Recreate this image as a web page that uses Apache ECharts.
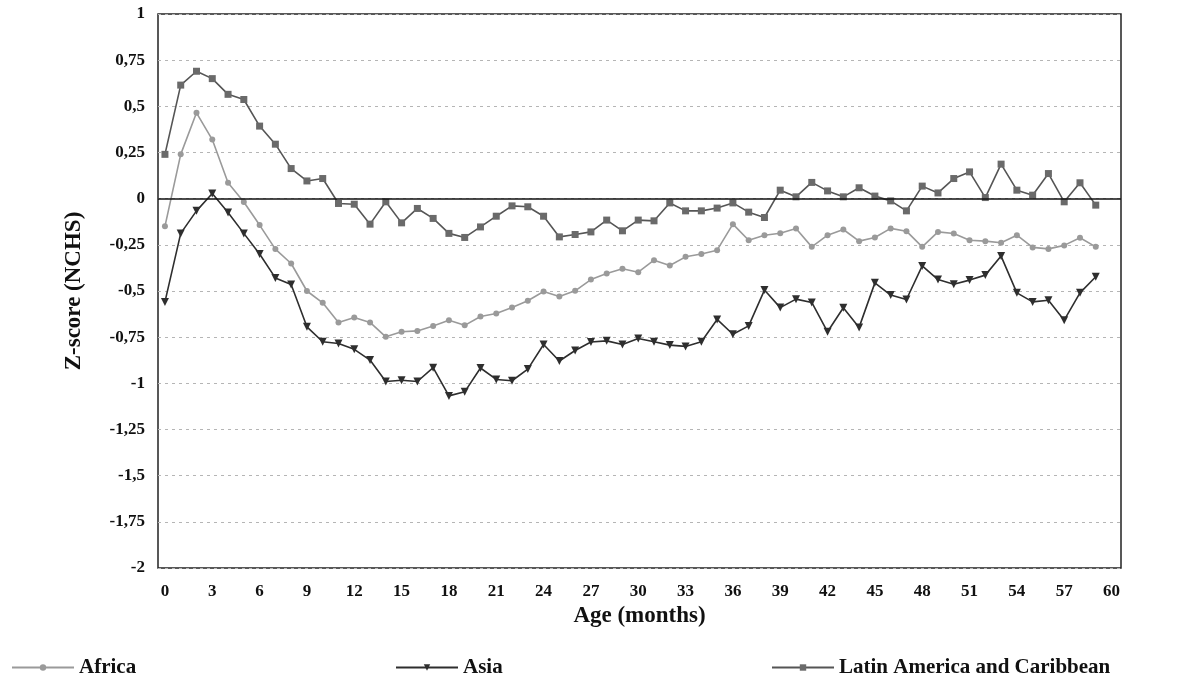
<!DOCTYPE html>
<html>
<head>
<meta charset="utf-8">
<script src="https://cdn.jsdelivr.net/npm/echarts@6/dist/echarts.min.js"></script>
<style>
  html, body { margin: 0; padding: 0; background: #fff; }
  #chart { width: 1180px; height: 681px; }
</style>
</head>
<body>
<div id="chart"></div>
<script>
// age in months
const months = [0, 1, 2, 3, 4, 5, 6, 7, 8, 9, 10, 11, 12, 13, 14, 15, 16, 17, 18, 19,
  20, 21, 22, 23, 24, 25, 26, 27, 28, 29, 30, 31, 32, 33, 34, 35, 36, 37, 38, 39,
  40, 41, 42, 43, 44, 45, 46, 47, 48, 49, 50, 51, 52, 53, 54, 55, 56, 57, 58, 59]

const africa = [-0.15, 0.24, 0.465, 0.32, 0.086, -0.018, -0.143, -0.273, -0.351, -0.5,
  -0.564, -0.67, -0.643, -0.67, -0.748, -0.721, -0.716, -0.689, -0.658, -0.686,
  -0.638, -0.622, -0.589, -0.553, -0.503, -0.53, -0.499, -0.438, -0.405, -0.38,
  -0.398, -0.333, -0.362, -0.315, -0.3, -0.279, -0.138, -0.225, -0.198, -0.187,
  -0.161, -0.261, -0.198, -0.167, -0.23, -0.21, -0.161, -0.176, -0.261, -0.18,
  -0.189, -0.225, -0.23, -0.239, -0.198, -0.264, -0.272, -0.253, -0.212, -0.261]

const asia = [-0.559, -0.188, -0.066, 0.028, -0.075, -0.188, -0.3, -0.429, -0.465, -0.694,
  -0.775, -0.784, -0.816, -0.874, -0.99, -0.983, -0.99, -0.915, -1.068, -1.046,
  -0.917, -0.979, -0.986, -0.923, -0.79, -0.879, -0.822, -0.776, -0.77, -0.79,
  -0.757, -0.775, -0.793, -0.8, -0.775, -0.654, -0.734, -0.689, -0.495, -0.59,
  -0.544, -0.562, -0.721, -0.591, -0.697, -0.456, -0.522, -0.546, -0.364, -0.438,
  -0.463, -0.441, -0.414, -0.311, -0.51, -0.559, -0.55, -0.658, -0.51, -0.423]

const latin = [0.24, 0.615, 0.69, 0.65, 0.565, 0.537, 0.393, 0.295, 0.163, 0.096,
  0.109, -0.026, -0.03, -0.138, -0.017, -0.131, -0.053, -0.107, -0.188, -0.21,
  -0.153, -0.095, -0.039, -0.044, -0.095, -0.207, -0.194, -0.18, -0.116, -0.174,
  -0.116, -0.12, -0.023, -0.066, -0.066, -0.051, -0.023, -0.073, -0.102, 0.046,
  0.01, 0.088, 0.042, 0.01, 0.059, 0.014, -0.012, -0.066, 0.068, 0.031,
  0.109, 0.145, 0.006, 0.187, 0.046, 0.019, 0.136, -0.017, 0.086, -0.035]

const xTicks = [0, 3, 6, 9, 12, 15, 18, 21, 24, 27, 30, 33, 36, 39, 42, 45, 48, 51, 54, 57, 60]

const FONT = '"Liberation Serif", "DejaVu Serif", serif'

const chart = echarts.init(document.getElementById('chart'))

function pairs(vals) {
  return months.map((m, i) => [m, vals[i]])
}

function legendAt(name, left) {
  return {
    data: [name],
    left: left,
    top: 652,
    itemWidth: 62,
    itemHeight: 8,
    itemGap: 12,
    textStyle: { fontFamily: FONT, fontWeight: 'bold', fontSize: 21, color: '#111' }
  }
}

chart.setOption({
  animation: false,
  backgroundColor: '#fff',
  grid: {
    left: 158, right: 59, top: 14, bottom: 113,
    show: true, borderColor: '#222', borderWidth: 1.5, backgroundColor: 'transparent'
  },
  legend: [
    legendAt('Africa', 6),
    legendAt('Asia', 390),
    legendAt('Latin America and Caribbean', 766)
  ],
  xAxis: {
    type: 'value', min: -0.44, max: 60.6,
    name: 'Age (months)', nameLocation: 'middle', nameGap: 34,
    nameTextStyle: { fontFamily: FONT, fontWeight: 'bold', fontSize: 23, color: '#111' },
    axisLine: { show: false }, axisTick: { show: false },
    splitLine: { show: false },
    axisLabel: {
      customValues: xTicks, margin: 15,
      fontFamily: FONT, fontWeight: 'bold', fontSize: 17, color: '#111'
    }
  },
  yAxis: {
    type: 'value', min: -2, max: 1, interval: 0.25,
    name: 'Z-score (NCHS)', nameLocation: 'middle', nameGap: 72, nameRotate: 90,
    nameTextStyle: { fontFamily: FONT, fontWeight: 'bold', fontSize: 23, color: '#111' },
    axisLine: { show: false }, axisTick: { show: false },
    splitLine: { lineStyle: { color: '#b5b5b5', type: [3, 4], width: 1 } },
    axisLabel: {
      margin: 13, fontFamily: FONT, fontWeight: 'bold', fontSize: 17, color: '#111',
      formatter: v => String(v).replace('.', ',')
    }
  },
  series: [
    {
      name: 'Latin America and Caribbean',
      type: 'line', data: pairs(latin),
      symbol: 'rect', symbolSize: 7,
      itemStyle: { color: '#6a6a6a' },
      lineStyle: { color: '#555', width: 1.6 },
      markLine: {
        silent: true, symbol: 'none',
        label: { show: false },
        lineStyle: { color: '#111', type: 'solid', width: 1.5 },
        data: [{ yAxis: 0 }]
      }
    },
    {
      name: 'Africa',
      type: 'line', data: pairs(africa),
      symbol: 'circle', symbolSize: 6,
      itemStyle: { color: '#9a9a9a' },
      lineStyle: { color: '#9a9a9a', width: 1.6 }
    },
    {
      name: 'Asia',
      type: 'line', data: pairs(asia),
      symbol: 'triangle', symbolRotate: 180, symbolSize: 8,
      itemStyle: { color: '#2e2e2e' },
      lineStyle: { color: '#2e2e2e', width: 1.6 }
    }
  ]
})
</script>
</body>
</html>
